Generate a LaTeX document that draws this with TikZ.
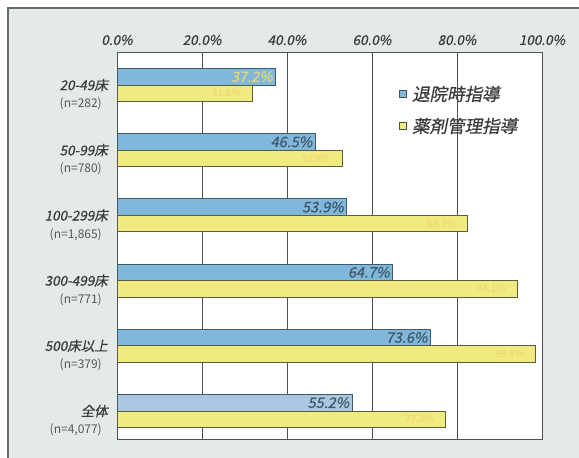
\documentclass[tikz,border=0pt]{standalone}
\usepackage{fontspec}
\newfontfamily\jpit[FakeSlant=0.2,FakeBold=0.6]{Noto Sans CJK JP}
\newfontfamily\jpup{Noto Sans CJK JP}
\usetikzlibrary{positioning}

\definecolor{bggray}{HTML}{E6EAE6}
\definecolor{framegray}{HTML}{6A6E6A}
\definecolor{gridgray}{HTML}{4E524E}
\definecolor{textgray}{HTML}{3A3D3A}
\definecolor{ngray}{HTML}{555855}
\definecolor{barblue}{HTML}{80B8DB}
\definecolor{barbluelight}{HTML}{AAC6E0}
\definecolor{bluedraw}{HTML}{3E5A6C}
\definecolor{baryellow}{HTML}{F1EA7E}
\definecolor{yellowdraw}{HTML}{5C5C40}
\definecolor{valblue}{HTML}{3F5768}
\definecolor{valyellow}{HTML}{E8D674}

\tikzset{
  axislabel/.style={font=\jpit\fontsize{13.5}{14}\selectfont, text=textgray, inner sep=0pt},
  grouplabel/.style={font=\jpit\fontsize{13.5}{14}\selectfont, text=textgray, inner sep=0pt, anchor=east},
  nlabel/.style={font=\jpup\fontsize{12}{12}\selectfont, text=ngray, inner sep=0pt, anchor=east},
  bar/.style={rectangle, inner sep=0pt, minimum height=16.5pt, line width=0.8pt, anchor=north west},
  bluebar/.style={bar, draw=bluedraw, fill=barblue},
  yellowbar/.style={bar, draw=yellowdraw, fill=baryellow},
  bluevalue/.style={font=\jpit\fontsize{14.5}{15}\selectfont, text=valblue, inner sep=0pt},
  yellowvalue/.style={font=\jpup\fontsize{10}{10}\selectfont, text=valyellow, inner sep=0pt},
  legbox/.style={rectangle, draw=gridgray, line width=0.7pt, minimum size=7pt, inner sep=0pt},
  legtext/.style={font=\jpit\fontsize{17.5}{18}\selectfont, text=textgray, inner sep=0pt},
  gridline/.style={draw=gridgray, line width=0.9pt}
}

\begin{document}
\begin{tikzpicture}[x=1pt,y=-1pt]
  \useasboundingbox (0,0) rectangle (579,458);
  \fill[white] (0,0) rectangle (579,458);
  \fill[bggray] (8,8) rectangle (579,458);
  \draw[framegray, line width=1.2pt] (8,458) -- (8,8) -- (579,8);

  % plot area and grid
  \draw[gridline, fill=white] (117,52) rectangle (542,439);
  \foreach \k in {1,...,4}
    \draw[gridline] ({117+85*\k},52) -- ({117+85*\k},439);
  \foreach \k/\t in {0/0.0,1/20.0,2/40.0,3/60.0,4/80.0,5/100.0}
    \node[axislabel] (tick\k) at ({117+85*\k},40) {\t\%};

  % bars
  \foreach \i/\a/\b/\nm/\nn/\fc/\vc in {
      0/37.2/31.8/20-49床/282/barblue/valyellow,
      1/46.5/52.9/50-99床/780/barblue/valblue,
      2/53.9/82.3/100-299床/{1,865}/barblue/valblue,
      3/64.7/94.1/300-499床/771/barblue/valblue,
      4/73.6/98.4/500床以上/379/barblue/valblue,
      5/55.2/77.2/全体/{4,077}/barbluelight/valblue} {
    \node[bluebar, fill=\fc, minimum width={\a*4.25pt}] (blue\i) at (117,{68+65.2*\i}) {};
    \node[yellowbar, minimum width={\b*4.25pt}] (yellow\i) at (117,{84.5+65.2*\i}) {};
    \node[bluevalue, text=\vc, left=3pt of blue\i.east] (bval\i) {\a\%};
    \node[yellowvalue, left=12pt of yellow\i.east] (yval\i) {\b\%};
    \node[grouplabel] (grp\i) at (108,{85+65.2*\i}) {\nm};
    \node[nlabel] (n\i) at (102,{104+65.2*\i}) {(n=\nn)};
  }

  % legend
  \node[legbox, fill=barblue] (keyblue) at (403,94) {};
  \node[legtext, right=5pt of keyblue] (keybluetext) {退院時指導};
  \node[legbox, fill=baryellow] (keyyellow) at (403,126) {};
  \node[legtext, right=5pt of keyyellow] (keyyellowtext) {薬剤管理指導};
\end{tikzpicture}
\end{document}
